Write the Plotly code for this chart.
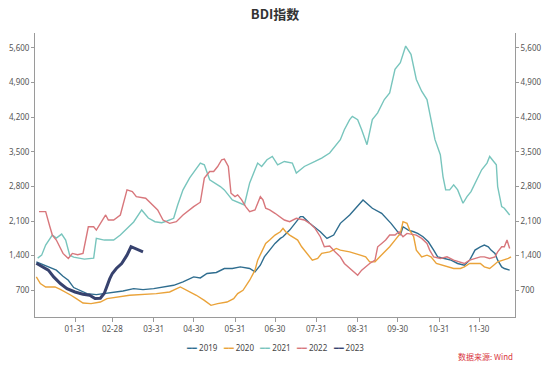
import plotly.graph_objects as go

# ---- data (day of year, BDI value) ----
tick_days = [31, 59, 90, 120, 151, 181, 212, 243, 273, 304, 334]
tick_labels = ["01-31", "02-28", "03-31", "04-30", "05-31", "06-30",
               "07-31", "08-31", "09-30", "10-31", "11-30"]
y_ticks = [700, 1400, 2100, 2800, 3500, 4200, 4900, 5600]

days_2019 = [2, 8, 12, 17, 22, 26, 30, 34, 40, 47, 52, 60, 67, 75, 82, 90, 97, 105, 112, 120, 125, 130,
             137, 143, 149, 155, 162, 166, 170, 173, 177, 181, 185, 187, 192, 196, 200, 202, 207, 215, 220,
             225, 230, 237, 245, 247, 254, 261, 268, 275, 277, 281, 285, 288, 292, 296, 300, 303, 308, 313,
             318, 323, 327, 331, 335, 338, 341, 343, 346, 348, 351, 353, 357]
vals_2019 = [1275, 1207, 1161, 1106, 984, 903, 755, 700, 633, 613, 633, 666, 686, 734, 714, 734, 767, 801, 868,
             970, 950, 1039, 1060, 1140, 1140, 1173, 1140, 1071, 1207, 1376, 1512, 1647, 1749, 1782, 1917,
             2053, 2188, 2188, 2053, 1883, 1749, 1816, 2053, 2222, 2459, 2526, 2358, 2256, 2053, 1816, 1984,
             1917, 1883, 1850, 1782, 1680, 1512, 1376, 1343, 1309, 1242, 1207, 1309, 1512, 1579, 1613, 1579,
             1512, 1445, 1309, 1173, 1140, 1106]

days_2020 = [2, 5, 9, 16, 20, 25, 28, 32, 37, 43, 50, 55, 62, 72, 92, 102, 110, 115, 122, 128, 133, 138, 145,
             150, 153, 157, 162, 166, 168, 171, 174, 177, 181, 185, 187, 189, 192, 196, 198, 201, 204, 207,
             209, 213, 216, 222, 227, 230, 237, 245, 249, 252, 256, 262, 267, 271, 275, 277, 280, 282, 285,
             287, 291, 295, 298, 302, 306, 310, 315, 320, 323, 327, 335, 338, 342, 345, 348, 352, 356, 358]
vals_2020 = [970, 836, 767, 767, 720, 650, 600, 532, 443, 430, 463, 532, 565, 599, 633, 666, 767, 700, 599, 497,
             396, 430, 463, 532, 633, 700, 903, 1106, 1309, 1477, 1647, 1715, 1816, 1883, 1952, 1883, 1816,
             1749, 1715, 1579, 1477, 1376, 1309, 1343, 1445, 1477, 1546, 1512, 1477, 1410, 1376, 1275, 1275,
             1445, 1579, 1715, 1850, 2086, 2053, 1917, 1782, 1512, 1376, 1410, 1376, 1242, 1207, 1173, 1140,
             1140, 1173, 1242, 1242, 1173, 1140, 1207, 1275, 1309, 1343, 1376]

days_2021 = [3, 6, 9, 14, 17, 21, 24, 27, 30, 34, 38, 45, 47, 53, 60, 65, 70, 75, 81, 86, 91, 96, 100, 105,
             108, 112, 117, 122, 125, 128, 132, 140, 143, 149, 155, 158, 162, 166, 168, 171, 175, 179, 183,
             188, 194, 197, 203, 211, 216, 222, 226, 230, 233, 237, 239, 243, 246, 250, 254, 258, 263, 267,
             271, 275, 279, 283, 287, 291, 295, 297, 301, 305, 307, 309, 312, 315, 318, 322, 325, 328, 332,
             336, 340, 342, 345, 347, 348, 351, 353, 357]
vals_2021 = [1350, 1410, 1613, 1816, 1755, 1836, 1715, 1410, 1370, 1343, 1329, 1350, 1750, 1715, 1715, 1816,
             1952, 2080, 2323, 2161, 2086, 2065, 2100, 2155, 2425, 2729, 2972, 3170, 3271, 3236, 2932, 2796,
             2729, 2526, 2465, 2425, 2871, 3135, 3271, 3202, 3338, 3405, 3236, 3303, 3271, 3068, 3202, 3303,
             3372, 3474, 3608, 3744, 3946, 4149, 4216, 4149, 3946, 3642, 4149, 4285, 4555, 4691, 5164, 5300,
             5637, 5468, 4961, 4724, 4555, 4285, 3744, 3439, 2999, 2729, 2729, 2830, 2729, 2459, 2593, 2695,
             2932, 3135, 3271, 3405, 3303, 3236, 2796, 2390, 2358, 2222]

days_2022 = [4, 9, 12, 14, 17, 22, 26, 29, 33, 37, 41, 45, 47, 54, 56, 60, 65, 70, 74, 77, 84, 89, 93, 97,
             102, 107, 112, 120, 125, 128, 132, 135, 138, 141, 143, 146, 148, 151, 153, 156, 159, 162, 166,
             170, 172, 174, 177, 181, 185, 188, 192, 197, 203, 207, 211, 215, 218, 222, 226, 230, 233, 237,
             241, 243, 246, 249, 252, 256, 258, 261, 264, 267, 271, 274, 277, 280, 284, 287, 291, 295, 297,
             300, 305, 310, 315, 320, 323, 327, 331, 335, 338, 342, 346, 348, 351, 353, 355, 357]
vals_2022 = [2289, 2289, 2000, 1816, 1715, 1445, 1343, 1445, 1420, 1445, 1984, 1984, 1917, 2222, 2120, 2120,
             2222, 2729, 2695, 2593, 2560, 2425, 2323, 2120, 2053, 2086, 2222, 2390, 2480, 2966, 3100, 3100,
             3202, 3338, 3352, 3202, 2662, 2593, 2628, 2526, 2390, 2289, 2323, 2593, 2526, 2358, 2323, 2256,
             2188, 2120, 2086, 2155, 2120, 2053, 1952, 1782, 1579, 1593, 1477, 1376, 1242, 1140, 1039, 1004,
             1106, 1173, 1242, 1309, 1579, 1647, 1715, 1816, 1816, 1883, 1782, 1850, 1836, 1816, 1749, 1647,
             1512, 1376, 1343, 1376, 1309, 1275, 1242, 1309, 1343, 1376, 1376, 1343, 1376, 1477, 1579, 1579,
             1715, 1546]

days_2023 = [2, 7, 11, 15, 20, 25, 31, 37, 42, 46, 50, 53, 55, 57, 59, 62, 66, 70, 73, 76, 79, 82]
vals_2023 = [1248, 1173, 1106, 970, 836, 734, 666, 619, 599, 532, 540, 640, 800, 930, 1040, 1140, 1242, 1410,
             1580, 1546, 1512, 1477]

series = [
    ("2019", days_2019, vals_2019, "#2f6d8f", 1.4),
    ("2020", days_2020, vals_2020, "#eaa33a", 1.4),
    ("2021", days_2021, vals_2021, "#78c5bd", 1.4),
    ("2022", days_2022, vals_2022, "#d8777c", 1.4),
    ("2023", days_2023, vals_2023, "#37426e", 3.0),
]

fig = go.Figure()
for name, d, v, c, w in series:
    fig.add_trace(go.Scatter(x=d, y=v, mode="lines", name=name,
                             line=dict(color=c, width=w), showlegend=False))
# carrier for right-side axis
fig.add_trace(go.Scatter(x=[None], y=[None], yaxis="y2", showlegend=False, hoverinfo="skip"))

tickfont = dict(family="Noto Sans", size=8, color="#555555")
yr = [160, 5900]

fig.update_layout(
    width=550, height=368,
    margin=dict(l=35, r=35, t=33, b=51, autoexpand=False),
    paper_bgcolor="white", plot_bgcolor="white",
    title=dict(text="<b>BDI指数</b>", x=0.5, xanchor="center", y=1 - 14 / 368, yanchor="middle",
               font=dict(family="Noto Sans CJK SC", size=13, color="#333333")),
    xaxis=dict(range=[1, 361], tickmode="array", tickvals=tick_days, ticktext=tick_labels,
               showgrid=False, zeroline=False, showline=True, linecolor="#9a9a9a", linewidth=1,
               ticks="outside", ticklen=4, tickcolor="#9a9a9a", tickfont=tickfont, automargin=False),
    yaxis=dict(range=yr, tickmode="array", tickvals=y_ticks, tickformat=",d",
               showgrid=False, zeroline=False, showline=True, linecolor="#9a9a9a", linewidth=1,
               ticks="outside", ticklen=3, tickcolor="#9a9a9a", tickfont=tickfont, automargin=False),
    yaxis2=dict(range=yr, overlaying="y", side="right", tickmode="array", tickvals=y_ticks, tickformat=",d",
                showgrid=False, zeroline=False, showline=True, linecolor="#9a9a9a", linewidth=1,
                ticks="outside", ticklen=3, tickcolor="#9a9a9a", tickfont=tickfont, automargin=False),
)

legend_text = "   ".join(
    f'<span style="color:{c}">━━</span> {name}' for name, _, _, c, _ in series)
fig.add_annotation(text=legend_text, xref="paper", yref="paper", x=0.5, y=-30 / 284,
                   xanchor="center", yanchor="middle", showarrow=False,
                   font=dict(family="Noto Sans", size=8, color="#444444"))
fig.add_annotation(text="数据来源: Wind", xref="paper", yref="paper", x=1.0, y=-39 / 284,
                   xanchor="right", yanchor="middle", showarrow=False,
                   font=dict(family="Noto Sans CJK SC", size=8, color="#d9363e"))

fig.write_html("out.html", config={"displayModeBar": False},
               post_script="document.body.style.margin='0';document.body.style.overflow='hidden';")
